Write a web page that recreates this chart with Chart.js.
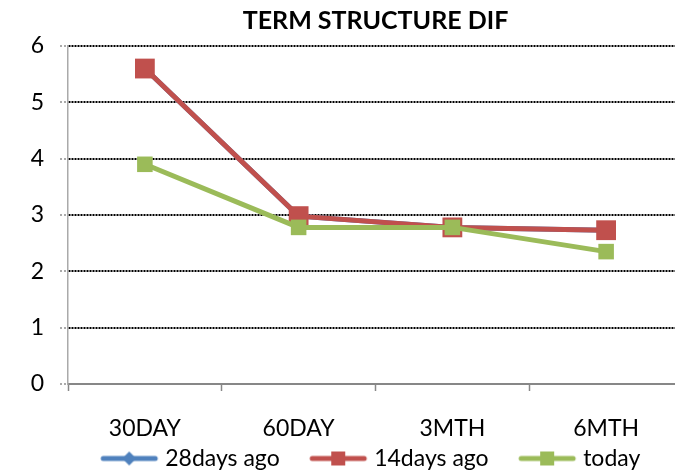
<!DOCTYPE html>
<html>
<head>
<meta charset="utf-8">
<script src="https://cdn.jsdelivr.net/npm/chart.js@4"></script>
<style>
  html, body { margin: 0; padding: 0; background: #fff; overflow: hidden; }
  #wrap { width: 675px; height: 473px; overflow: hidden; }
</style>
</head>
<body>
<div id="wrap"><canvas id="c" width="700" height="473"></canvas></div>
<script>
// Tenors on the curve
const categories = ['30DAY', '60DAY', '3MTH', '6MTH'];
// Spread values per snapshot
const days28 = [5.6, 2.98, 2.78, 2.73];
const days14 = [5.6, 2.98, 2.78, 2.73];
const today = [3.9, 2.78, 2.78, 2.35];
// Value axis
const yMin = 0, yMax = 6, yStep = 1;

const FONT = 'Lato, "Open Sans", sans-serif';
const BLUE = '#4F81BD', RED = '#C0504D', GREEN = '#9BBB59';

// Legend swatch: blank lead-in, then a line segment with the series marker in the middle
const ICON_W = 88, ICON_LEAD = 28;
function legendIcon(color, shape) {
  const c = document.createElement('canvas');
  c.width = ICON_W; c.height = 22;
  const g = c.getContext('2d');
  const x0 = ICON_LEAD, x1 = ICON_LEAD + 56, mid = (x0 + x1) / 2;
  g.strokeStyle = color; g.lineWidth = 5; g.lineCap = 'round';
  g.beginPath(); g.moveTo(x0 + 2, 11); g.lineTo(x1 - 2, 11); g.stroke();
  g.fillStyle = color;
  if (shape === 'diamond') {
    g.beginPath(); g.moveTo(mid, 4); g.lineTo(mid + 7, 11); g.lineTo(mid, 18); g.lineTo(mid - 7, 11); g.closePath(); g.fill();
  } else {
    g.fillRect(mid - 7, 4, 14, 14);
  }
  return c;
}

// Offsets the legend block to cancel the first swatch's blank lead-in
const legendNudge = {
  id: 'legendNudge',
  afterLayout(chart) {
    const lg = chart.legend;
    if (!lg) return;
    lg.left -= 15; lg.right -= 15;
  }
};

new Chart(document.getElementById('c'), {
  type: 'line',
  data: {
    labels: categories,
    datasets: [
      { label: '28days ago', data: days28, borderColor: BLUE, backgroundColor: BLUE,
        borderWidth: 5, pointStyle: 'rectRot', pointRadius: 8, pointBorderWidth: 0, order: 2,
        legendIcon: legendIcon(BLUE, 'diamond') },
      { label: '14days ago', data: days14, borderColor: RED, backgroundColor: RED,
        borderWidth: 5, pointStyle: 'rect', pointRadius: 14, pointBorderWidth: 0, order: 1,
        legendIcon: legendIcon(RED, 'square') },
      { label: 'today', data: today, borderColor: GREEN, backgroundColor: GREEN,
        borderWidth: 5, pointStyle: 'rect', pointRadius: 11, pointBorderWidth: 0, order: 0,
        legendIcon: legendIcon(GREEN, 'square') }
    ]
  },
  plugins: [legendNudge],
  options: {
    responsive: false,
    animation: false,
    layout: { padding: { left: 0, right: 17, top: 0, bottom: 0 } },
    plugins: {
      tooltip: { enabled: false },
      title: {
        display: true, text: 'TERM STRUCTURE DIF', fullSize: false,
        color: '#000', font: { family: FONT, size: 25, weight: 'bold' },
        padding: { top: 6, bottom: 10 }
      },
      legend: {
        position: 'bottom', fullSize: false, maxHeight: 36,
        labels: {
          color: '#000', font: { family: FONT, size: 23 },
          usePointStyle: true, pointStyleWidth: ICON_W - 15, padding: 10,
          sort: (a, b) => a.datasetIndex - b.datasetIndex,
          generateLabels: (chart) => chart.data.datasets.map((ds, i) => ({
            text: ds.label, datasetIndex: i, pointStyle: ds.legendIcon,
            fillStyle: ds.borderColor, strokeStyle: ds.borderColor, lineWidth: 0,
            hidden: false, fontColor: '#000'
          }))
        }
      }
    },
    scales: {
      x: {
        offset: true,
        afterFit: (s) => { s.height = 53; },
        grid: { display: true, drawOnChartArea: false, drawTicks: true, tickLength: 7,
                tickColor: '#888', tickWidth: 1.5, offset: true },
        border: { display: true, color: '#878787', width: 2 },
        ticks: { color: '#000', font: { family: FONT, size: 23 }, padding: 24, maxRotation: 0 }
      },
      y: {
        min: yMin, max: yMax,
        afterFit: (s) => { s.width = 68; },
        grid: {
          color: (ctx) => (ctx.tick && ctx.tick.value === 0) ? 'rgba(0,0,0,0)' : '#000',
          lineWidth: 2, borderDash: [2, 1],
          tickLength: 8, tickColor: '#aaa', tickBorderDash: [2, 2], tickWidth: 2
        },
        border: { display: true, color: '#aaa', width: 1.5, dash: [2, 1] },
        ticks: { stepSize: yStep, color: '#000', font: { family: FONT, size: 23 }, padding: 16 }
      }
    }
  }
});
</script>
</body>
</html>
